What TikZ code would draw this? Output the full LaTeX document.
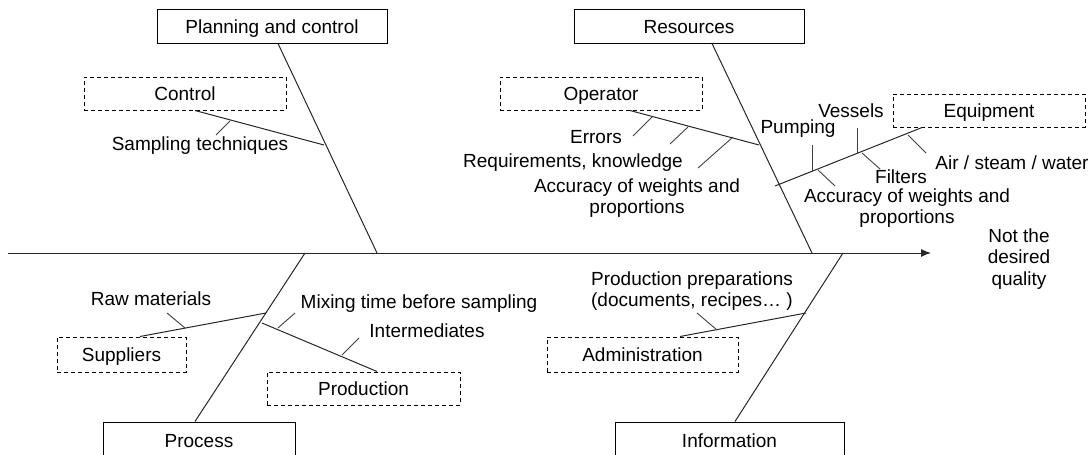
\documentclass[tikz,border=0pt]{standalone}
\usepackage{fontspec}
\setmainfont{Liberation Sans}
\usetikzlibrary{arrows.meta}
\begin{document}
\begin{tikzpicture}[x=1pt,y=-1pt,
  box/.style={draw=black,line width=1pt,inner sep=0pt,text height=14pt,text depth=0pt,font=\fontsize{19}{21.5}\selectfont},
  dbox/.style={box,dash pattern=on 4pt off 3pt},
  lbl/.style={inner sep=0pt,align=center,font=\fontsize{19}{21.5}\selectfont},
  bone/.style={draw=black!85,line width=1pt},
  tick/.style={draw=black!75,line width=0.9pt}]
\useasboundingbox (0,0) rectangle (1092,455);
\clip (0,0) rectangle (1092,455);
% main axis
\coordinate (axL) at (8,253);
\coordinate (axR) at (931,253);
\draw[bone,-{Latex[length=10pt,width=8pt]}] (axL) -- (axR);
\node[lbl] (goal) at (1019,259) {Not the\\desired\\quality};
% Planning and control
\node[box,minimum width=230pt,minimum height=34pt] (PC) at (272,26) {Planning and control};
\coordinate (pcA) at (377,253);
\draw[bone] ([xshift=6pt]PC.south) -- (pcA);
\node[dbox,minimum width=202pt,minimum height=33pt] (CT) at (185,93.5) {Control};
\coordinate (ctE) at (324,145);
\draw[bone] ([xshift=10pt]CT.south) -- (ctE);
\coordinate (t1a) at (230,121); \coordinate (t1b) at (216,135);
\draw[tick] (t1a) -- (t1b);
\node[lbl] (samp) at (200,146) {Sampling techniques};
% Resources
\node[box,minimum width=230pt,minimum height=34pt] (RS) at (689,26) {Resources};
\coordinate (rsA) at (812,253);
\draw[bone] ([xshift=23pt]RS.south) -- (rsA);
\node[dbox,minimum width=202pt,minimum height=33pt] (OP) at (601,93.5) {Operator};
\coordinate (opE) at (759,145);
\draw[bone] ([xshift=29pt]OP.south) -- (opE);
\coordinate (o1a) at (652,117); \coordinate (o1b) at (633,136);
\coordinate (o2a) at (688,127); \coordinate (o2b) at (670,144);
\coordinate (o3a) at (733,137); \coordinate (o3b) at (698,168);
\draw[tick] (o1a) -- (o1b);
\draw[tick] (o2a) -- (o2b);
\draw[tick] (o3a) -- (o3b);
\node[lbl] (err) at (596,137) {Errors};
\node[lbl] (req) at (573,163) {Requirements, knowledge};
\node[lbl] (acc1) at (637,198) {Accuracy of weights and\\proportions};
% Equipment
\node[dbox,minimum width=192pt,minimum height=33pt] (EQ) at (989,110.5) {Equipment};
\coordinate (eqE) at (775,186);
\draw[bone] ([xshift=-67pt]EQ.south) -- (eqE);
\coordinate (pu1) at (812,171); \coordinate (pu2) at (812,145);
\coordinate (ve1) at (857,153); \coordinate (ve2) at (857,128);
\draw[tick] (pu1) -- (pu2);
\draw[tick] (ve1) -- (ve2);
\coordinate (d1a) at (818,170); \coordinate (d1b) at (835,186);
\coordinate (d2a) at (862,153); \coordinate (d2b) at (880,169);
\coordinate (d3a) at (908,135); \coordinate (d3b) at (926,153);
\draw[tick] (d1a) -- (d1b);
\draw[tick] (d2a) -- (d2b);
\draw[tick] (d3a) -- (d3b);
\node[lbl] (pump) at (798,129) {Pumping};
\node[lbl] (vess) at (851,111) {Vessels};
\node[lbl] (filt) at (901,177) {Filters};
\node[lbl] (air) at (1012,163) {Air / steam / water};
\node[lbl] (acc2) at (907,208) {Accuracy of weights and\\proportions};
% Process
\node[box,minimum width=192pt,minimum height=36pt] (PR) at (199,440) {Process};
\coordinate (prA) at (305,253);
\draw[bone] ([xshift=-4pt]PR.north) -- (prA);
\node[dbox,minimum width=129pt,minimum height=35pt] (SU) at (121.5,354.5) {Suppliers};
\coordinate (suE) at (266,313);
\draw[bone] ([xshift=18.5pt]SU.north) -- (suE);
\coordinate (r1a) at (185,328); \coordinate (r1b) at (167,313);
\draw[tick] (r1a) -- (r1b);
\node[lbl] (raw) at (151,299) {Raw materials};
\node[dbox,minimum width=193pt,minimum height=33pt] (PD) at (363.5,388.5) {Production};
\coordinate (pdS) at (262,323);
\draw[bone] (pdS) -- ([xshift=13.5pt]PD.north);
\coordinate (m1a) at (278,328); \coordinate (m1b) at (295,313);
\coordinate (i1a) at (342,355); \coordinate (i1b) at (359,338);
\draw[tick] (m1a) -- (m1b);
\draw[tick] (i1a) -- (i1b);
\node[lbl] (mix) at (419,304) {Mixing time before sampling};
\node[lbl] (inter) at (427,331) {Intermediates};
% Information
\node[box,minimum width=229pt,minimum height=36pt] (IN) at (729.5,440) {Information};
\coordinate (inA) at (843,253);
\draw[bone] ([xshift=5.5pt]IN.north) -- (inA);
\node[dbox,minimum width=191pt,minimum height=35pt] (AD) at (642.5,354.5) {Administration};
\coordinate (adE) at (806,313);
\draw[bone] ([xshift=37.5pt]AD.north) -- (adE);
\coordinate (a1a) at (717,330); \coordinate (a1b) at (697,313);
\draw[tick] (a1a) -- (a1b);
\node[lbl] (prep) at (692,291) {Production preparations\\(documents, recipes\dots\ )};
\end{tikzpicture}
\end{document}
